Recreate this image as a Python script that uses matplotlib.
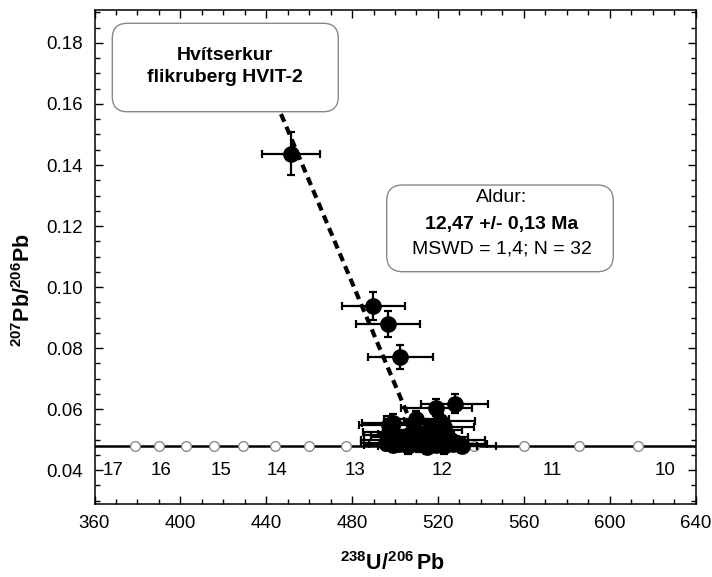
import matplotlib
matplotlib.use('Agg')
import matplotlib.pyplot as plt
from matplotlib.patches import FancyBboxPatch
from matplotlib.transforms import IdentityTransform
from matplotlib.ticker import MultipleLocator, FormatStrFormatter

plt.rcParams['font.family'] = ['Liberation Sans', 'DejaVu Sans']
plt.rcParams['mathtext.fontset'] = 'custom'
plt.rcParams['mathtext.rm'] = 'Liberation Sans'
plt.rcParams['mathtext.bf'] = 'Liberation Sans:bold'
plt.rcParams['mathtext.it'] = 'Liberation Sans:italic'

# ---- data (238U/206Pb, 207Pb/206Pb with 2-sigma errors) ----
u_pb = [451.6, 489.8, 496.7, 502.5, 519.2, 527.9, 520.9,
        510.0, 499.0, 497.0, 523.0, 497.0, 500.0, 503.0, 507.0,
        512.0, 515.0, 519.0, 526.0, 496.0, 499.0, 502.0, 506.0,
        511.0, 515.0, 519.0, 523.0, 527.0, 531.0, 508.0, 498.0, 516.0]
pb_pb = [0.1437, 0.0939, 0.0879, 0.0771, 0.0605, 0.0618, 0.0561,
         0.0566, 0.0555, 0.0548, 0.0540, 0.0525, 0.0515, 0.0508, 0.0520,
         0.0512, 0.0503, 0.0510, 0.0500, 0.0490, 0.0482, 0.0487, 0.0478,
         0.0485, 0.0477, 0.0484, 0.0478, 0.0486, 0.0480, 0.0495, 0.0500, 0.0530]
u_err = [13.5, 14.7, 14.8, 15.2, 16.5, 15.6, 16.5,
         15.0, 14.5, 14.0, 14.0, 12.0, 14.5, 14.0, 15.0,
         15.0, 15.0, 15.0, 16.0, 12.0, 13.5, 14.0, 14.0,
         14.0, 15.0, 15.0, 15.0, 16.0, 16.0, 14.0, 14.0, 15.0]
pb_err = [0.0071, 0.0046, 0.0043, 0.0040, 0.0027, 0.0030, 0.0027,
          0.0028, 0.0028, 0.0028, 0.0027, 0.0026, 0.0025, 0.0025, 0.0026,
          0.0025, 0.0025, 0.0025, 0.0025, 0.0025, 0.0024, 0.0024, 0.0024,
          0.0024, 0.0024, 0.0024, 0.0024, 0.0024, 0.0024, 0.0025, 0.0025, 0.0026]

# concordia curve (age markers every 0.5 Ma) and its ends
concordia_x = [378.7, 390.1, 402.4, 415.6, 429.3, 444.1, 460.0, 477.0,
               495.4, 515.2, 536.7, 560.0, 585.5, 613.4]
concordia_y = [0.0479, 0.0479, 0.0479, 0.0479, 0.0479, 0.0479, 0.0479, 0.0479,
               0.0479, 0.0479, 0.0479, 0.0479, 0.0479, 0.0479]
concordia_line_x = [360, 640]
concordia_line_y = [0.0479, 0.0479]

age_labels = ['17', '16', '15', '14', '13', '12', '11', '10']
age_label_x = [368.6, 390.8, 418.9, 445.2, 481.2, 521.7, 573.5, 625.6]
age_label_y = 0.0399

# regression (discordia) line
discordia_x = [446.9, 512.0]
discordia_y = [0.1567, 0.0480]

W, H = 712, 577
fig = plt.figure(figsize=(W / 100, H / 100), dpi=100)
ax = fig.add_axes([94.5 / W, 73 / H, 601 / W, 494 / H])

ax.plot(concordia_line_x, concordia_line_y, color='black', lw=1.8, zorder=1)
ax.plot(concordia_x, concordia_y, 'o', ms=7, mfc='white', mec='#808080',
        mew=0.9, zorder=2)
for lab, lx in zip(age_labels, age_label_x):
    ax.text(lx, age_label_y, lab, ha='center', va='center', fontsize=13.5,
            zorder=2)

ax.plot(discordia_x, discordia_y, color='black', lw=3.0,
        dashes=(2.0, 1.3), zorder=3)

ax.errorbar(u_pb, pb_pb, xerr=u_err, yerr=pb_err, fmt='o', color='black',
            ms=11, mfc='black', mec='black', ecolor='black', elinewidth=1.6,
            capsize=3.2, capthick=1.6, zorder=4)

ax.set_xlim(360, 640)
ax.set_ylim(0.0289, 0.1908)
ax.xaxis.set_major_locator(MultipleLocator(40))
ax.xaxis.set_minor_locator(MultipleLocator(10))
ax.yaxis.set_major_locator(MultipleLocator(0.02))
ax.yaxis.set_minor_locator(MultipleLocator(0.005))
ax.yaxis.set_major_formatter(FormatStrFormatter('%.2f'))
ax.tick_params(which='both', direction='in', top=True, right=True,
               width=1.0, labelsize=13.5)
ax.tick_params(which='major', length=6)
ax.tick_params(which='minor', length=3.6)
ax.tick_params(axis='y', pad=8.5)
ax.tick_params(axis='x', pad=8)
for s in ax.spines.values():
    s.set_linewidth(1.1)

# axis labels
fig.text(392, 577 - 564, r'$\mathbf{^{238}U/^{206}\,Pb}$', ha='center',
         va='center', fontsize=15.5, transform=IdentityTransform())
fig.text(24, 577 - 290, r'$\mathbf{^{207}Pb/^{206}Pb}$', ha='center',
         va='center', fontsize=15.5, rotation=90, transform=IdentityTransform())

# text boxes
box1 = FancyBboxPatch((112.3, 577 - 111.7), 226, 88.4,
                      boxstyle='round,pad=0,rounding_size=15',
                      transform=IdentityTransform(), fc='white',
                      ec='#888888', lw=1.0, zorder=5)
fig.add_artist(box1)
fig.text(225, 577 - 60, 'Hvítserkur', ha='center', va='baseline',
         fontsize=14, fontweight='bold', transform=IdentityTransform(),
         zorder=6)
fig.text(225, 577 - 82, 'flikruberg HVIT-2', ha='center', va='baseline',
         fontsize=14, fontweight='bold', transform=IdentityTransform(),
         zorder=6)

box2 = FancyBboxPatch((386.7, 577 - 271.7), 226.6, 86.7,
                      boxstyle='round,pad=0,rounding_size=16',
                      transform=IdentityTransform(), fc='white',
                      ec='#888888', lw=1.0, zorder=5)
fig.add_artist(box2)
fig.text(501.7, 577 - 202, 'Aldur:', ha='center', va='baseline',
         fontsize=14, transform=IdentityTransform(), zorder=6)
fig.text(501.7, 577 - 228.5, '12,47 +/- 0,13 Ma', ha='center',
         va='baseline', fontsize=14, fontweight='bold',
         transform=IdentityTransform(), zorder=6)
fig.text(501.7, 577 - 254, 'MSWD = 1,4; N = 32', ha='center',
         va='baseline', fontsize=14, transform=IdentityTransform(), zorder=6)

fig.savefig('out.png', dpi=100)
